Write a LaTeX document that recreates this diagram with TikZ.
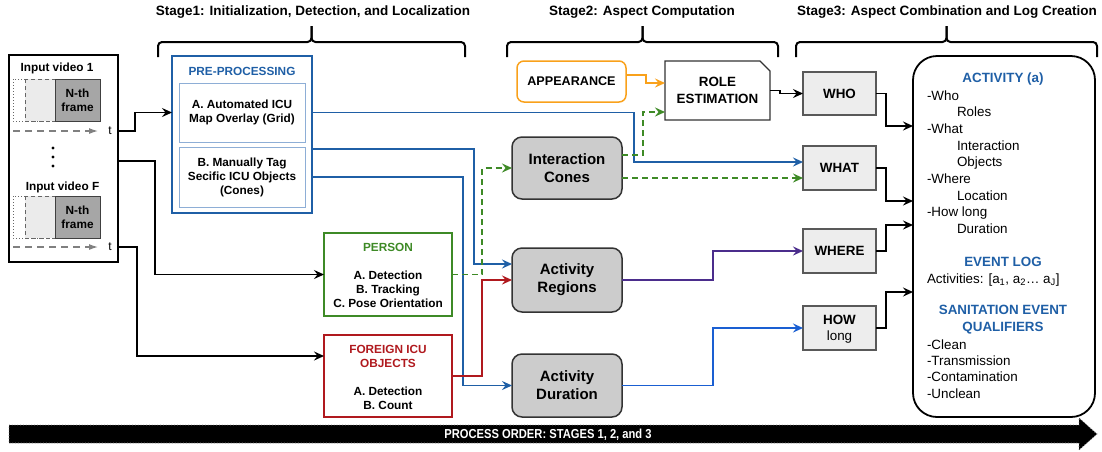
\documentclass[tikz,border=0pt]{standalone}
\usepackage{fontspec}
\usepackage{graphicx}
\setmainfont{Liberation Sans}
\usetikzlibrary{arrows.meta,calc}
\definecolor{pblue}{HTML}{1F5FA6}
\definecolor{lblue}{HTML}{8EAED6}
\definecolor{pgreen}{HTML}{3E8A26}
\definecolor{pred}{HTML}{B0191E}
\definecolor{porange}{HTML}{F9A11B}
\definecolor{ppurple}{HTML}{4B2D8C}
\definecolor{bblue}{HTML}{1A5FD2}
\begin{document}
\begin{tikzpicture}[x=1pt,y=-1pt,
  every node/.style={inner sep=0pt,outer sep=0pt},
  arr/.style={line width=1.7pt,-{Stealth[length=10pt,width=9pt,inset=3.5pt]}},
  dsh/.style={dash pattern=on 6pt off 4pt},
  fA/.style={font=\fontsize{11.8}{14}\selectfont\bfseries},
  fB/.style={font=\fontsize{13.4}{17}\selectfont\bfseries},
  fR/.style={font=\fontsize{13.4}{16}\selectfont},
  fT/.style={font=\fontsize{13.5}{16}\selectfont\bfseries},
  fC/.style={font=\fontsize{15}{18}\selectfont\bfseries},
  bracepath/.style={line width=2pt,rounded corners=4pt},
  s1box/.style={line width=1.6pt,minimum width=128},
  s2box/.style={draw=black!80,fill=black!20,line width=1.5pt,rounded corners=10pt,minimum width=110,align=center,fC},
  s3box/.style={draw=black!65,fill=black!7,line width=1.3pt,minimum width=73,minimum height=44,align=center,fB},
  nth/.style={draw=black!75,fill=black!35,line width=1pt,minimum width=45,minimum height=42,align=center,fA},
  tline/.style={draw=black!50,line width=1.2pt,dash pattern=on 7pt off 5pt,-{Latex[length=9pt,width=6pt]}},
  lt/.style={fR,anchor=base west}
]
\useasboundingbox (0,0) rectangle (1102,451);

% ---------- stage titles and braces ----------
\node[fT] (st1) at (313,12) {Stage1: Initialization, Detection, and Localization};
\node[fT] (st2) at (642,12) {Stage2: Aspect Computation};
\node[fT] (st3) at (947,12) {Stage3: Aspect Combination and Log Creation};
\draw[bracepath] (158,57) |- (311.5,42) -- (311.5,26);
\draw[bracepath] (465,57) |- (311.5,42) -- (311.5,26);
\draw[bracepath] (507,57) |- (642.5,42) -- (642.5,26);
\draw[bracepath] (778,57) |- (642.5,42) -- (642.5,26);
\draw[bracepath] (796,57) |- (946.5,42) -- (946.5,26);
\draw[bracepath] (1097,57) |- (946.5,42) -- (946.5,26);

% ---------- input videos ----------
\node[draw,line width=1.5pt,minimum width=109,minimum height=207] (inputs) at (63.5,158.5) {};
\node[fA] (in1) at (57,68) {Input video 1};
\draw[dotted,black!60,line width=1pt] (13,79) rectangle (55,121);
\draw[black!60,fill=black!8,line width=1pt,dash pattern=on 4pt off 3pt] (25,79) rectangle (65,121);
\node[nth] (f1) at (77.5,100) {N-th\\frame};
\node[font=\fontsize{12}{14}\selectfont] (t1) at (110,131) {t};
\draw[tline] (13,131) -- (t1.west -| 98,0);
\fill (53,148) circle (1.6) (53,157) circle (1.6) (53,166) circle (1.6);
\node[fA] (inF) at (62.5,187) {Input video F};
\draw[dotted,black!60,line width=1pt] (13,196) rectangle (55,238);
\draw[black!60,fill=black!8,line width=1pt,dash pattern=on 4pt off 3pt] (25,196) rectangle (65,238);
\node[nth] (f2) at (77.5,217) {N-th\\frame};
\node[font=\fontsize{12}{14}\selectfont] (t2) at (110,247) {t};
\draw[tline] (13,247) -- (t2.west -| 98,0);

% ---------- stage 1 ----------
\node[draw=pblue,line width=1.8pt,minimum width=140,minimum height=157] (pre) at (242,134.5) {};
\node[fA,text=pblue] (pret) at (242,71) {PRE-PROCESSING};
\node[draw=lblue,line width=1pt,minimum width=126,minimum height=59,align=center,fA] (preA) at (242,112.5) {A. Automated ICU\\Map Overlay (Grid)};
\node[draw=lblue,line width=1pt,minimum width=126,minimum height=60,align=center,fA] (preB) at (242,177) {B. Manually Tag\\Secific ICU Objects\\(Cones)};

\node[draw=pgreen,s1box,minimum height=83] (person) at (388,274.5) {};
\node[fA,text=pgreen] (ptitle) at (388,247) {PERSON};
\node[fA,align=center] (ptext) at (388,289) {A. Detection\\B. Tracking\\C. Pose Orientation};

\node[draw=pred,s1box,minimum height=82] (foreign) at (388,376) {};
\node[fA,text=pred,align=center] (ftitle) at (388,356) {FOREIGN ICU\\OBJECTS};
\node[fA,align=center] (ftext) at (388,398) {A. Detection\\B. Count};

% ---------- stage 2 ----------
\node[draw=porange,line width=1.5pt,rounded corners=7pt,minimum width=109,minimum height=41,font=\fontsize{12.6}{15}\selectfont\bfseries] (app) at (571.5,81.5) {APPEARANCE};
\node[minimum width=105,minimum height=59,align=center,fB] (role) at (717.5,90.5) {ROLE\\ESTIMATION};
\draw[line width=1.3pt,black!80] (role.south west) -- (role.north west) -- ([xshift=-10pt]role.north east) -- ([yshift=-10pt]role.north east) -- (role.south east) -- cycle;
\node[s2box,minimum height=62] (cones) at (567,168) {Interaction\\Cones};
\node[s2box,minimum height=64] (regions) at (567,280) {Activity\\Regions};
\node[s2box,minimum height=63] (duration) at (567,385.5) {Activity\\Duration};

% ---------- stage 3 ----------
\node[s3box,minimum height=43] (who) at (839.5,93.5) {WHO};
\node[s3box] (what) at (839.5,168) {WHAT};
\node[s3box] (where) at (839.5,251) {WHERE};
\node[s3box] (how) at (839.5,328) {};
\node[fB] (howt) at (839.5,320) {HOW};
\node[fR] (howl) at (839.5,337) {long};

\node[draw,line width=1.8pt,rounded corners=24pt,minimum width=182,minimum height=361] (act) at (1004,236.5) {};
\node[fB,text=pblue] (acth) at (1003,79) {ACTIVITY (a)};
\node[lt] (l1) at (927,100.8) {-Who};
\node[lt] (l2) at (957,116.8) {Roles};
\node[lt] (l3) at (927,133.8) {-What};
\node[lt] (l4) at (957,150.8) {Interaction};
\node[lt] (l5) at (957,166.8) {Objects};
\node[lt] (l6) at (927,183.8) {-Where};
\node[lt] (l7) at (957,200.8) {Location};
\node[lt] (l8) at (927,216.8) {-How long};
\node[lt] (l9) at (957,233.8) {Duration};
\node[fB,text=pblue] (evh) at (1003,262) {EVENT LOG};
\node[lt] (ev) at (927,283.8) {Activities: [a\textsubscript{1}, a\textsubscript{2}… a\textsubscript{J}]};
\node[fB,text=pblue,align=center] (sanh) at (1003,319.5) {SANITATION EVENT\\QUALIFIERS};
\node[lt] (q1) at (927,349.8) {-Clean};
\node[lt] (q2) at (927,365.8) {-Transmission};
\node[lt] (q3) at (927,381.8) {-Contamination};
\node[lt] (q4) at (927,398.8) {-Unclean};

% ---------- connectors ----------
\draw[arr] (inputs.east |- t1) -- ++(17,0) |- (pre.west |- preA);
\draw[arr] ([yshift=-2.5pt]inputs.east) -- ++(37,0) |- (person.west);
\draw[arr] (inputs.east |- t2) -- ++(19,0) |- (foreign.west |- ftitle);

\draw[arr,pblue] (pre.east |- preA) -- ++(322,0) |- ([yshift=6pt]what.west);
\draw[arr,pblue] ([yshift=-14.5pt]pre.east) -- ++(162,0) |- ([yshift=16pt]regions.west);
\draw[arr,pblue] (pre.east |- preB) -- ++(151,0) |- (duration.west);
\draw[arr,pgreen,dsh] (person.east) -- ++(30,0) |- (cones.west);
\draw[arr,pred] (foreign.east) -- ++(30,0) |- (regions.west);

\draw[arr,pgreen,dsh] ([yshift=13pt]cones.east) -- ++(21,0) |- ([yshift=-21.5pt]role.west);
\draw[arr,pgreen,dsh] ([yshift=-10pt]cones.east) -- ([yshift=-10pt]what.west);
\draw[arr,porange] ([yshift=6.5pt]app.east) -- ++(20,0) |- ([yshift=7.5pt]role.west);
\draw[arr] (role.east) -- ++(10,0) |- (who.west);
\draw[arr,ppurple] (regions.east) -- ++(91,0) |- (where.west);
\draw[arr,bblue] (duration.east) -- ++(91,0) |- (how.west);

\draw[arr] (who.east) -- ++(10,0) |- ([yshift=110.5pt]act.west);
\draw[arr] (what.east) -- ++(10,0) |- ([yshift=35.5pt]act.west);
\draw[arr] (where.east) -- ++(10,0) |- ([yshift=11.5pt]act.west);
\draw[arr] (how.east) -- ++(10,0) |- ([yshift=-55.5pt]act.west);

% ---------- process order arrow ----------
\fill[black] (9,425) -- (1079,425) -- (1079,418) -- (1097,434) -- (1079,450) -- (1079,443) -- (9,443) -- cycle;
\draw[black!45,dotted,line width=0.8pt] (9,425) -- (1079,425) -- (1079,418) -- (1097,434) -- (1079,450) -- (1079,443) -- (9,443) -- cycle;
\node[text=white,font=\fontsize{13}{15}\selectfont\bfseries] (proc) at (548,434.5) {\scalebox{0.86}[1]{PROCESS ORDER: STAGES 1, 2, and 3}};
\end{tikzpicture}
\end{document}
